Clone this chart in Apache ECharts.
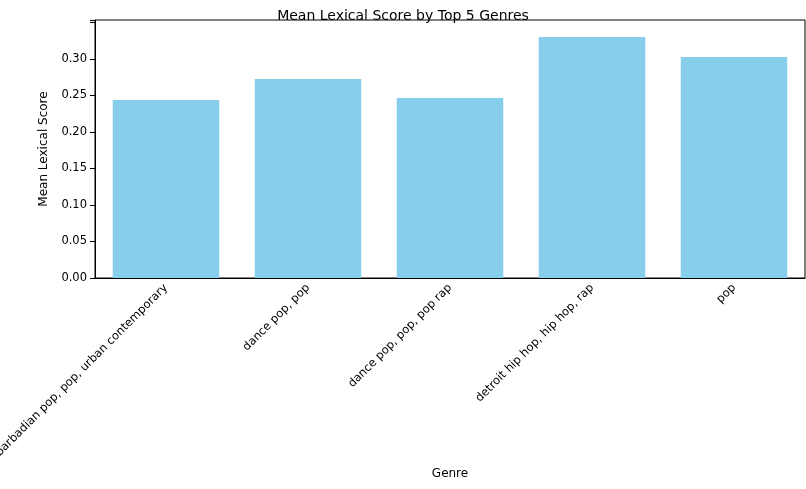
<!DOCTYPE html>
<html><head><meta charset="utf-8">
<script src="https://cdn.jsdelivr.net/npm/echarts@6/dist/echarts.min.js"></script>
<style>html,body{margin:0;padding:0;background:#fff}#c{width:806px;height:489px}</style>
</head><body><div id="c"></div>
<script>
const categories = ["barbadian pop, pop, urban contemporary","dance pop, pop","dance pop, pop, pop rap","detroit hip hop, hip hop, rap","pop"];
const values = [0.2438, 0.2726, 0.2466, 0.3300, 0.3027];
const chart = echarts.init(document.getElementById('c'));
const font = 'DejaVu Sans';
chart.setOption({
  animation:false,
  title:{text:'Mean Lexical Score by Top 5 Genres',left:'center',top:4,textStyle:{fontFamily:font,fontSize:14,fontWeight:'normal',color:'#000'}},
  grid:{left:95,right:1,top:20,bottom:211,containLabel:false,outerBoundsMode:'none'},
  xAxis:{type:'category',data:categories,name:'Genre',nameLocation:'middle',nameGap:190,
    nameTextStyle:{fontFamily:font,fontSize:12,color:'#000'},
    axisLine:{lineStyle:{color:'#000'}},axisTick:{alignWithLabel:true,lineStyle:{color:'#000'}},
    axisLabel:{rotate:45,interval:0,fontFamily:font,fontSize:11.5,color:'#000'}},
  yAxis:{type:'value',min:0,max:0.3534,interval:0.05,name:'Mean Lexical Score',nameLocation:'middle',nameGap:45,
    nameTextStyle:{fontFamily:font,fontSize:12,color:'#000'},
    splitLine:{show:false},axisLine:{show:true,lineStyle:{color:'#000'}},axisTick:{show:true,lineStyle:{color:'#000'}},
    axisLabel:{fontFamily:font,fontSize:11.5,color:'#000',formatter:v=>v>0.31?'':v.toFixed(2)}},
  series:[{type:'bar',data:values,barCategoryGap:'25%',itemStyle:{color:'#87ceeb'}}],
  graphic:[{type:'rect',shape:{x:95,y:20,width:710,height:258},style:{fill:'none',stroke:'#000',lineWidth:1},silent:true}]
});
</script></body></html>
